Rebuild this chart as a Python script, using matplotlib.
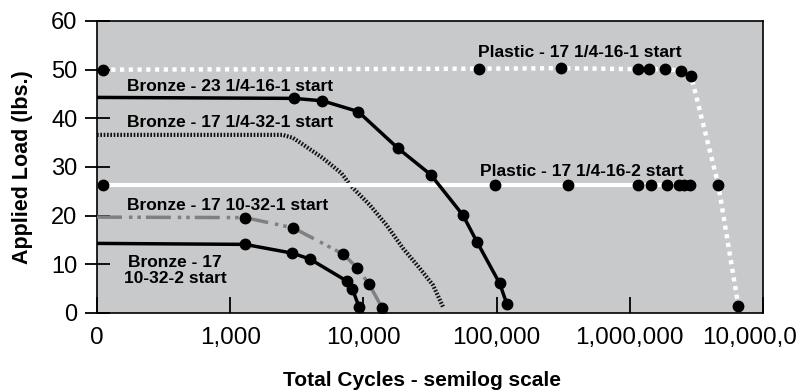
import matplotlib
matplotlib.use('Agg')
import matplotlib.pyplot as plt
from matplotlib.ticker import FixedLocator, NullLocator

plt.rcParams['font.family'] = ['Liberation Sans', 'DejaVu Sans']
plt.rcParams['lines.scale_dashes'] = False

# data (cycles, applied load in lbs.)
plastic1_cycles = [110, 73400, 303000, 1161000, 1406000, 1853000, 2427000, 2885000, 4624000, 6530000]
plastic1_load = [50.0, 50.2, 50.3, 50.1, 50.1, 50.1, 49.8, 48.8, 26.3, 1.5]

plastic2_cycles = [110, 96900, 343000, 1161000, 1445000, 1905000, 2330000, 2570000, 2835000]
plastic2_load = [26.2, 26.2, 26.2, 26.2, 26.2, 26.2, 26.2, 26.2, 26.2]

bronze23_cycles = [100, 3000, 4930, 9120, 18100, 32100, 55900, 71300, 105400, 119600]
bronze23_load = [44.3, 44.1, 43.6, 41.4, 33.9, 28.4, 20.1, 14.6, 6.1, 1.8]

bronze17_32_cycles = [100, 2480, 2950, 3530, 4980, 6850, 8130, 11160, 14890, 19830, 26460, 33270, 39550]
bronze17_32_load = [36.6, 36.6, 36.0, 34.6, 31.8, 28.7, 26.0, 22.2, 18.1, 13.3, 9.2, 5.75, 1.3]

bronze10_1_cycles = [100, 1290, 2970, 7050, 8970, 11040, 13800]
bronze10_1_load = [19.7, 19.6, 17.5, 12.1, 9.3, 5.9, 1.1]

bronze10_2_cycles = [100, 1290, 2920, 3960, 7470, 8280, 9290]
bronze10_2_load = [14.3, 14.1, 12.3, 11.1, 6.6, 4.9, 1.2]

x_ticks = [100, 1000, 10000, 100000, 1000000, 10000000]
x_tick_labels = ['0', '1,000', '10,000', '100,000', '1,000,000', '10,000,000']
y_ticks = [0, 10, 20, 30, 40, 50, 60]

fig = plt.figure(figsize=(7.97, 3.91), dpi=100)
ax = fig.add_axes([0.1217, 0.1995, 0.8356, 0.7468])
ax.set_facecolor('#c8c9cb')

# bronze 1/4-32 dotted curve (no markers), under the white lines
ax.plot(bronze17_32_cycles, bronze17_32_load, color='#111111', lw=3.0,
        linestyle=(0, (1.2, 1.2)), dash_capstyle='butt', zorder=2)

# plastic series (white)
ax.plot(plastic2_cycles, plastic2_load, color='white', lw=3.0, zorder=3,
        marker='o', ms=7.5, mfc='black', mec='black')
ax.plot(plastic1_cycles, plastic1_load, color='white', lw=3.2, zorder=3,
        linestyle=(0, (3.0, 3.3)), dash_capstyle='butt',
        marker='o', ms=7.5, mfc='black', mec='black')

# bronze 10-32-1 grey dash-dot-dot
ax.plot(bronze10_1_cycles, bronze10_1_load, color='#808080', lw=2.5, zorder=4,
        linestyle=(0, (18, 5, 2.5, 3.6, 2.5, 3.6)), dash_capstyle='butt',
        marker='o', ms=7.5, mfc='black', mec='black', markevery=slice(1, None))

# black solid bronze series
ax.plot(bronze23_cycles, bronze23_load, color='black', lw=2.5, zorder=5,
        marker='o', ms=7.5, markevery=slice(1, None))
ax.plot(bronze10_2_cycles, bronze10_2_load, color='black', lw=2.5, zorder=5,
        marker='o', ms=7.5, markevery=slice(1, None))

ax.set_xscale('log')
ax.set_xlim(100, 10000000)
ax.set_ylim(0, 60)
ax.xaxis.set_major_locator(FixedLocator(x_ticks))
ax.xaxis.set_minor_locator(NullLocator())
ax.set_xticklabels(x_tick_labels)
ax.set_yticks(y_ticks)

ax.tick_params(axis='x', direction='in', length=11.5, width=1.3, pad=10,
               labelsize=17.5, colors='black')
ax.tick_params(axis='y', direction='inout', length=18, width=1.3, pad=5,
               labelsize=17)
for s in ax.spines.values():
    s.set_linewidth(1.2)
    s.set_color('black')

# series labels
lbl = dict(fontsize=12.5, fontweight='bold', ha='center', va='baseline', zorder=6)
ax.text(419400, 52.5, 'Plastic - 17 1/4-16-1 start', **lbl)
ax.text(440000, 28.15, 'Plastic - 17 1/4-16-2 start', **lbl)
ax.text(1003, 45.7, 'Bronze - 23 1/4-16-1 start', **lbl)
ax.text(1003, 38.15, 'Bronze - 17 1/4-32-1 start', **lbl)
ax.text(952, 21.15, 'Bronze - 17 10-32-1 start', **lbl)
ax.text(385, 9.5, 'Bronze - 17', **lbl)
ax.text(385, 6.1, '10-32-2 start', **lbl)

fig.text(422 / 797, 0.028, 'Total Cycles - semilog scale', fontsize=15,
         fontweight='bold', ha='center', va='center')
fig.text(23 / 797, (391 - 167) / 391, 'Applied Load (lbs.)', fontsize=15.5,
         fontweight='bold', rotation=90, ha='center', va='center')

fig.savefig('out.png', dpi=100)
